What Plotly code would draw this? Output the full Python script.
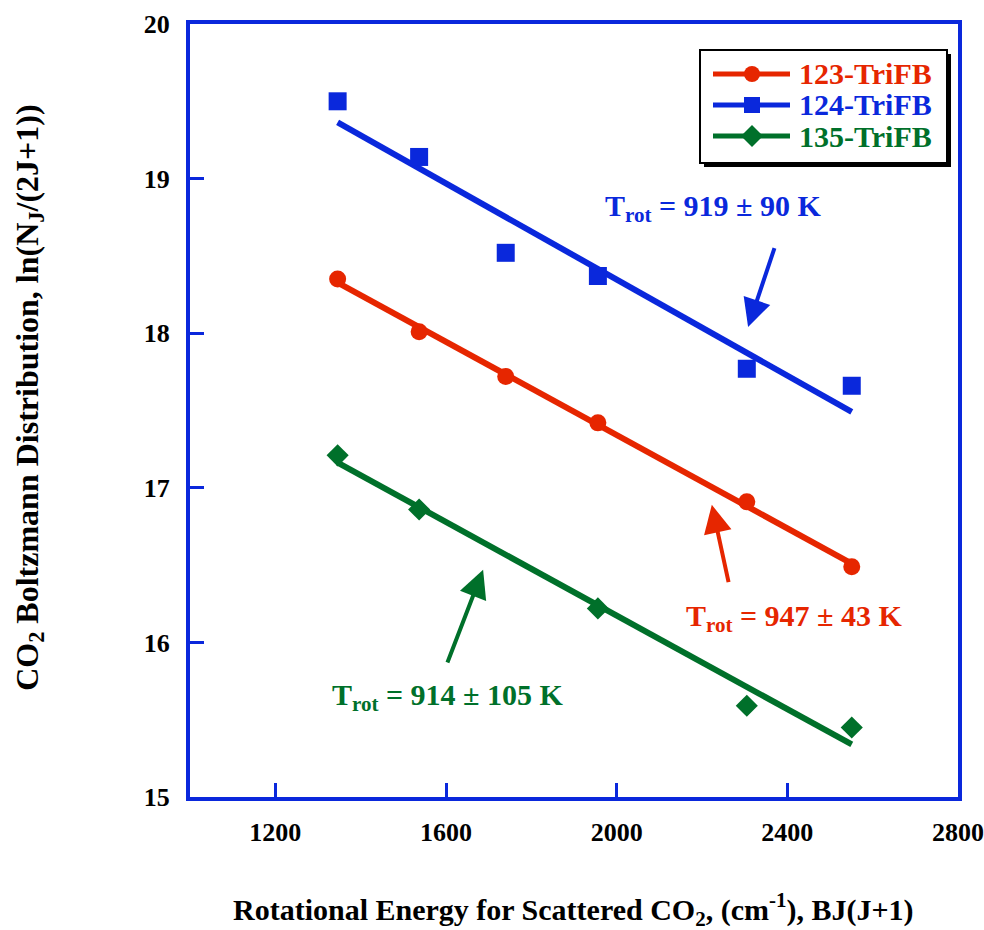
import numpy as np
import plotly.graph_objects as go

# Rotational energy BJ(J+1) in cm^-1 and ln(N_J/(2J+1)) for each trifluorobenzene
x_123 = [1346, 1537, 1740, 1956, 2305, 2551]
y_123 = [18.35, 18.01, 17.72, 17.42, 16.91, 16.49]

x_124 = [1346, 1537, 1740, 1956, 2305, 2551]
y_124 = [19.50, 19.14, 18.52, 18.37, 17.77, 17.66]

x_135 = [1346, 1537, 1956, 2305, 2551]
y_135 = [17.21, 16.86, 16.22, 15.59, 15.45]

labels = ["123-TriFB", "124-TriFB", "135-TriFB"]
t_rot_text = ["947 ± 43 K", "919 ± 90 K", "914 ± 105 K"]

x_ticks = [1200, 1600, 2000, 2400, 2800]
y_ticks = [15, 16, 17, 18, 19, 20]

RED = "#E62600"
BLUE = "#0A28DC"
GREEN = "#00702A"
FONT = "Liberation Serif"

series = [
    (x_123, y_123, RED, "circle", 17),
    (x_124, y_124, BLUE, "square", 18),
    (x_135, y_135, GREEN, "diamond", 17),
]

fig = go.Figure()

for xs, ys, color, symbol, msize in series:
    xs_a = np.array(xs, dtype=float)
    ys_a = np.array(ys, dtype=float)
    slope, icpt = np.polyfit(xs_a, ys_a, 1)
    xf = np.array([xs_a.min(), xs_a.max()])
    fig.add_trace(go.Scatter(
        x=xf, y=slope * xf + icpt, mode="lines",
        line=dict(color=color, width=6), showlegend=False, hoverinfo="skip"))
    fig.add_trace(go.Scatter(
        x=xs, y=ys, mode="markers",
        marker=dict(symbol=symbol, size=msize, color=color, line=dict(width=0)),
        showlegend=False))

axis_common = dict(
    showline=True, linecolor=BLUE, linewidth=4, mirror=True,
    ticks="inside", tickcolor=BLUE, tickwidth=3, ticklen=14,
    showgrid=False, zeroline=False, automargin=False,
    tickfont=dict(family=FONT, size=26, color="black", weight="bold"),
)

fig.update_xaxes(range=[1000, 2800], tickvals=x_ticks,
                 ticktext=[str(v) for v in x_ticks], ticklabelstandoff=9,
                 **axis_common)
fig.update_yaxes(range=[15, 20], tickvals=y_ticks,
                 ticktext=[str(v) for v in y_ticks], ticklabelstandoff=11,
                 **axis_common)

annotations = []

# axis titles
annotations.append(dict(
    text="Rotational Energy for Scattered CO<sub>2</sub>, (cm<sup>-1</sup>), BJ(J+1)",
    xref="paper", yref="paper", x=0.499, y=-0.145, xanchor="center", yanchor="middle",
    showarrow=False, font=dict(family=FONT, size=30, color="black", weight="bold")))
annotations.append(dict(
    text="CO<sub>2</sub> Boltzmann Distribution, ln(N<sub>J</sub>/(2J+1))",
    xref="paper", yref="paper", x=-0.21, y=0.516, xanchor="center", yanchor="middle",
    textangle=-90, showarrow=False,
    font=dict(family=FONT, size=32, color="black", weight="bold")))

# rotational temperature labels
temp_labels = [
    (t_rot_text[0], RED, 2416, 16.16),
    (t_rot_text[1], BLUE, 2226, 18.81),
    (t_rot_text[2], GREEN, 1605, 15.65),
]
for txt, color, tx, ty in temp_labels:
    annotations.append(dict(
        text="T<sub>rot</sub> = " + txt, x=tx, y=ty, xref="x", yref="y",
        xanchor="center", yanchor="middle", showarrow=False,
        font=dict(family=FONT, size=30, color=color, weight="bold")))

# arrows pointing from each label to its fit line
arrows = [
    (RED, 2223, 16.89, 2263, 16.38),
    (BLUE, 2308, 18.04, 2371, 18.56),
    (GREEN, 1687, 16.47, 1602, 15.86),
]
for color, hx, hy, tx, ty in arrows:
    annotations.append(dict(
        text="", x=hx, y=hy, ax=tx, ay=ty, xref="x", yref="y",
        axref="x", ayref="y", showarrow=True, arrowhead=2,
        arrowsize=1.4, arrowwidth=4, arrowcolor=color, standoff=0))

# legend box drawn with shapes and text
shapes = []
def px_x(p):
    return (p - 190) / 768.0

def px_y(p):
    return (797 - p) / 773.0

shapes.append(dict(type="rect", xref="paper", yref="paper",
                   x0=px_x(704), x1=px_x(951), y0=px_y(54), y1=px_y(167),
                   fillcolor="black", line=dict(width=0), layer="above"))
shapes.append(dict(type="rect", xref="paper", yref="paper",
                   x0=px_x(700), x1=px_x(947), y0=px_y(50), y1=px_y(163),
                   fillcolor="white", line=dict(color="black", width=2), layer="above"))

row_y = [74, 105, 136]
for (xs, ys, color, symbol, msize), lab, ry in zip(series, labels, row_y):
    shapes.append(dict(type="line", xref="paper", yref="paper",
                       x0=px_x(713), x1=px_x(790), y0=px_y(ry), y1=px_y(ry),
                       line=dict(color=color, width=5), layer="above"))
    anchor = dict(xref="paper", yref="paper", xsizemode="pixel", ysizemode="pixel",
                  xanchor=px_x(752), yanchor=px_y(ry), layer="above",
                  fillcolor=color, line=dict(width=0))
    if symbol == "circle":
        shapes.append(dict(type="circle", x0=-8, x1=8, y0=-8, y1=8, **anchor))
    elif symbol == "square":
        shapes.append(dict(type="rect", x0=-8, x1=8, y0=-8, y1=8, **anchor))
    else:
        shapes.append(dict(type="path", path="M 0,-11 L 11,0 L 0,11 L -11,0 Z", **anchor))
    annotations.append(dict(
        text=lab, xref="paper", yref="paper", x=px_x(797), y=px_y(ry),
        xanchor="left", yanchor="middle", showarrow=False,
        font=dict(family=FONT, size=30, color=color, weight="bold")))

fig.update_layout(
    width=984, height=930,
    margin=dict(l=190, r=26, t=24, b=133, autoexpand=False),
    paper_bgcolor="white", plot_bgcolor="white",
    showlegend=False,
    annotations=annotations, shapes=shapes,
)

fig.write_html(
    "out.html",
    config={"responsive": False},
    post_script="document.documentElement.style.overflow='hidden';"
                "document.body.style.overflow='hidden';document.body.style.margin='0';",
)
